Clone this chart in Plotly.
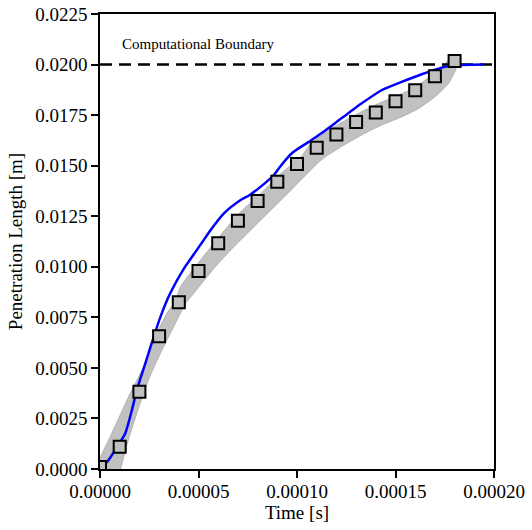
import plotly.graph_objects as go

# Experimental squares
exp_t = [0.0, 1e-5, 2e-5, 3e-5, 4e-5, 5e-5, 6e-5, 7e-5, 8e-5, 9e-5, 1e-4,
         1.1e-4, 1.2e-4, 1.3e-4, 1.4e-4, 1.5e-4, 1.6e-4, 1.7e-4, 1.8e-4]
exp_y = [0.0001, 0.0011, 0.00382, 0.00657, 0.00824, 0.00979, 0.01116, 0.01227,
         0.01325, 0.0142, 0.01508, 0.01588, 0.01654, 0.01716, 0.01763, 0.01819,
         0.01873, 0.01942, 0.02018]

# Uncertainty band edges
band_up_t = [-2e-6, 0.0, 6.0e-6, 1.44e-5, 2.30e-5, 2.89e-5, 3.40e-5, 3.83e-5, 4.08e-5,
             5.10e-5, 6.12e-5, 7.14e-5, 8.16e-5, 9.18e-5, 1.02e-4, 1.071e-4, 1.19e-4,
             1.292e-4, 1.412e-4, 1.514e-4, 1.616e-4, 1.70e-4, 1.769e-4, 1.794e-4, 1.82e-4]
band_up_y = [0.0, 0.00054, 0.00178, 0.00356, 0.00524, 0.00672, 0.00771, 0.00835, 0.00901,
             0.01033, 0.01157, 0.01272, 0.01362, 0.01461, 0.01544, 0.01610, 0.01692,
             0.01749, 0.01807, 0.01848, 0.01898, 0.01963, 0.02021, 0.02046, 0.02046]
band_lo_t = [1.05e-5, 1.44e-5, 1.87e-5, 2.46e-5, 3.15e-5, 3.91e-5, 4.34e-5, 4.76e-5,
             5.78e-5, 6.80e-5, 7.82e-5, 8.84e-5, 9.86e-5, 1.122e-4, 1.224e-4, 1.327e-4,
             1.429e-4, 1.531e-4, 1.616e-4, 1.70e-4, 1.769e-4, 1.811e-4, 1.816e-4]
band_lo_y = [0.0, 0.00143, 0.00275, 0.00440, 0.00588, 0.00736, 0.00819, 0.00868,
             0.00992, 0.01099, 0.01198, 0.01296, 0.01395, 0.01527, 0.01593, 0.01651,
             0.01700, 0.01741, 0.01782, 0.01840, 0.01906, 0.01988, 0.02038]

# Simulation (blue line)
sim_t = [0.0, 8.7e-7, 4.0e-6, 7.65e-6, 1.28e-5, 1.62e-5, 1.87e-5, 2.30e-5, 2.55e-5,
         3.06e-5, 3.57e-5, 4.25e-5, 4.93e-5, 5.61e-5, 6.29e-5, 7.14e-5, 7.6e-5, 8.33e-5,
         8.84e-5, 9.18e-5, 9.78e-5, 1.055e-4, 1.122e-4, 1.224e-4, 1.327e-4, 1.429e-4,
         1.531e-4, 1.633e-4, 1.735e-4, 1.80e-4, 1.947e-4]
sim_y = [0.0, 0.00011, 0.0004, 0.00094, 0.00176, 0.00292, 0.0039, 0.00522, 0.00600,
         0.00750, 0.00870, 0.00990, 0.01085, 0.01181, 0.01264, 0.0133, 0.01355, 0.0141,
         0.01455, 0.0150, 0.01565, 0.01615, 0.01659, 0.01733, 0.01807, 0.01873,
         0.01914, 0.01952, 0.01985, 0.01996, 0.0200]

boundary_y = 0.02
x_range = [0.0, 0.0002]
y_range = [0.0, 0.0225]
x_ticks = [0.0, 0.00005, 0.0001, 0.00015, 0.0002]
y_ticks = [0.0, 0.0025, 0.005, 0.0075, 0.01, 0.0125, 0.015, 0.0175, 0.02, 0.0225]

FONT = "Liberation Serif, Times New Roman, DejaVu Serif, serif"

fig = go.Figure()

fig.add_trace(go.Scatter(
    x=band_up_t + band_lo_t[::-1],
    y=band_up_y + band_lo_y[::-1],
    fill="toself", fillcolor="rgba(160,160,160,0.65)",
    line=dict(color="rgba(140,140,140,0.6)", width=0.8, shape="spline", smoothing=0.6),
    mode="lines", hoverinfo="skip", showlegend=False))

fig.add_trace(go.Scatter(
    x=x_range, y=[boundary_y, boundary_y], mode="lines",
    line=dict(color="black", width=2.5, dash="12px,7px"), showlegend=False))

fig.add_trace(go.Scatter(
    x=sim_t, y=sim_y, mode="lines",
    line=dict(color="#0000ff", width=2.5, shape="spline", smoothing=0.6),
    showlegend=False))

fig.add_trace(go.Scatter(
    x=exp_t, y=exp_y, mode="markers",
    marker=dict(symbol="square", size=12, color="#c0c0c0",
                line=dict(color="black", width=2)),
    cliponaxis=True, showlegend=False))

fig.add_annotation(x=1.0e-5, y=0.0205, xref="x", yref="y",
                   text="Computational Boundary", showarrow=False,
                   xanchor="left", yanchor="bottom",
                   font=dict(family=FONT, size=15, color="black"))

axis_common = dict(showgrid=False, zeroline=False, showline=True, linecolor="black",
                   linewidth=1.5, mirror=True, ticks="outside", ticklen=7,
                   tickwidth=1.5, tickcolor="black", automargin=False,
                   tickfont=dict(family=FONT, size=19, color="black"))

fig.update_xaxes(range=x_range, tickvals=x_ticks, tickformat=".5f",
                 ticklabelstandoff=-3,
                 title=dict(text="Time [s]", font=dict(family=FONT, size=19, color="black"),
                            standoff=0),
                 **axis_common)
fig.update_yaxes(range=y_range, tickvals=y_ticks, tickformat=".4f",
                 title=dict(text="Penetration Length [m]",
                            font=dict(family=FONT, size=19, color="black"), standoff=8),
                 **axis_common)

fig.update_layout(width=532, height=530, margin=dict(l=100, r=38, t=14, b=61),
                  plot_bgcolor="white", paper_bgcolor="white",
                  font=dict(family=FONT, color="black"))

fig.write_html("out.html")
